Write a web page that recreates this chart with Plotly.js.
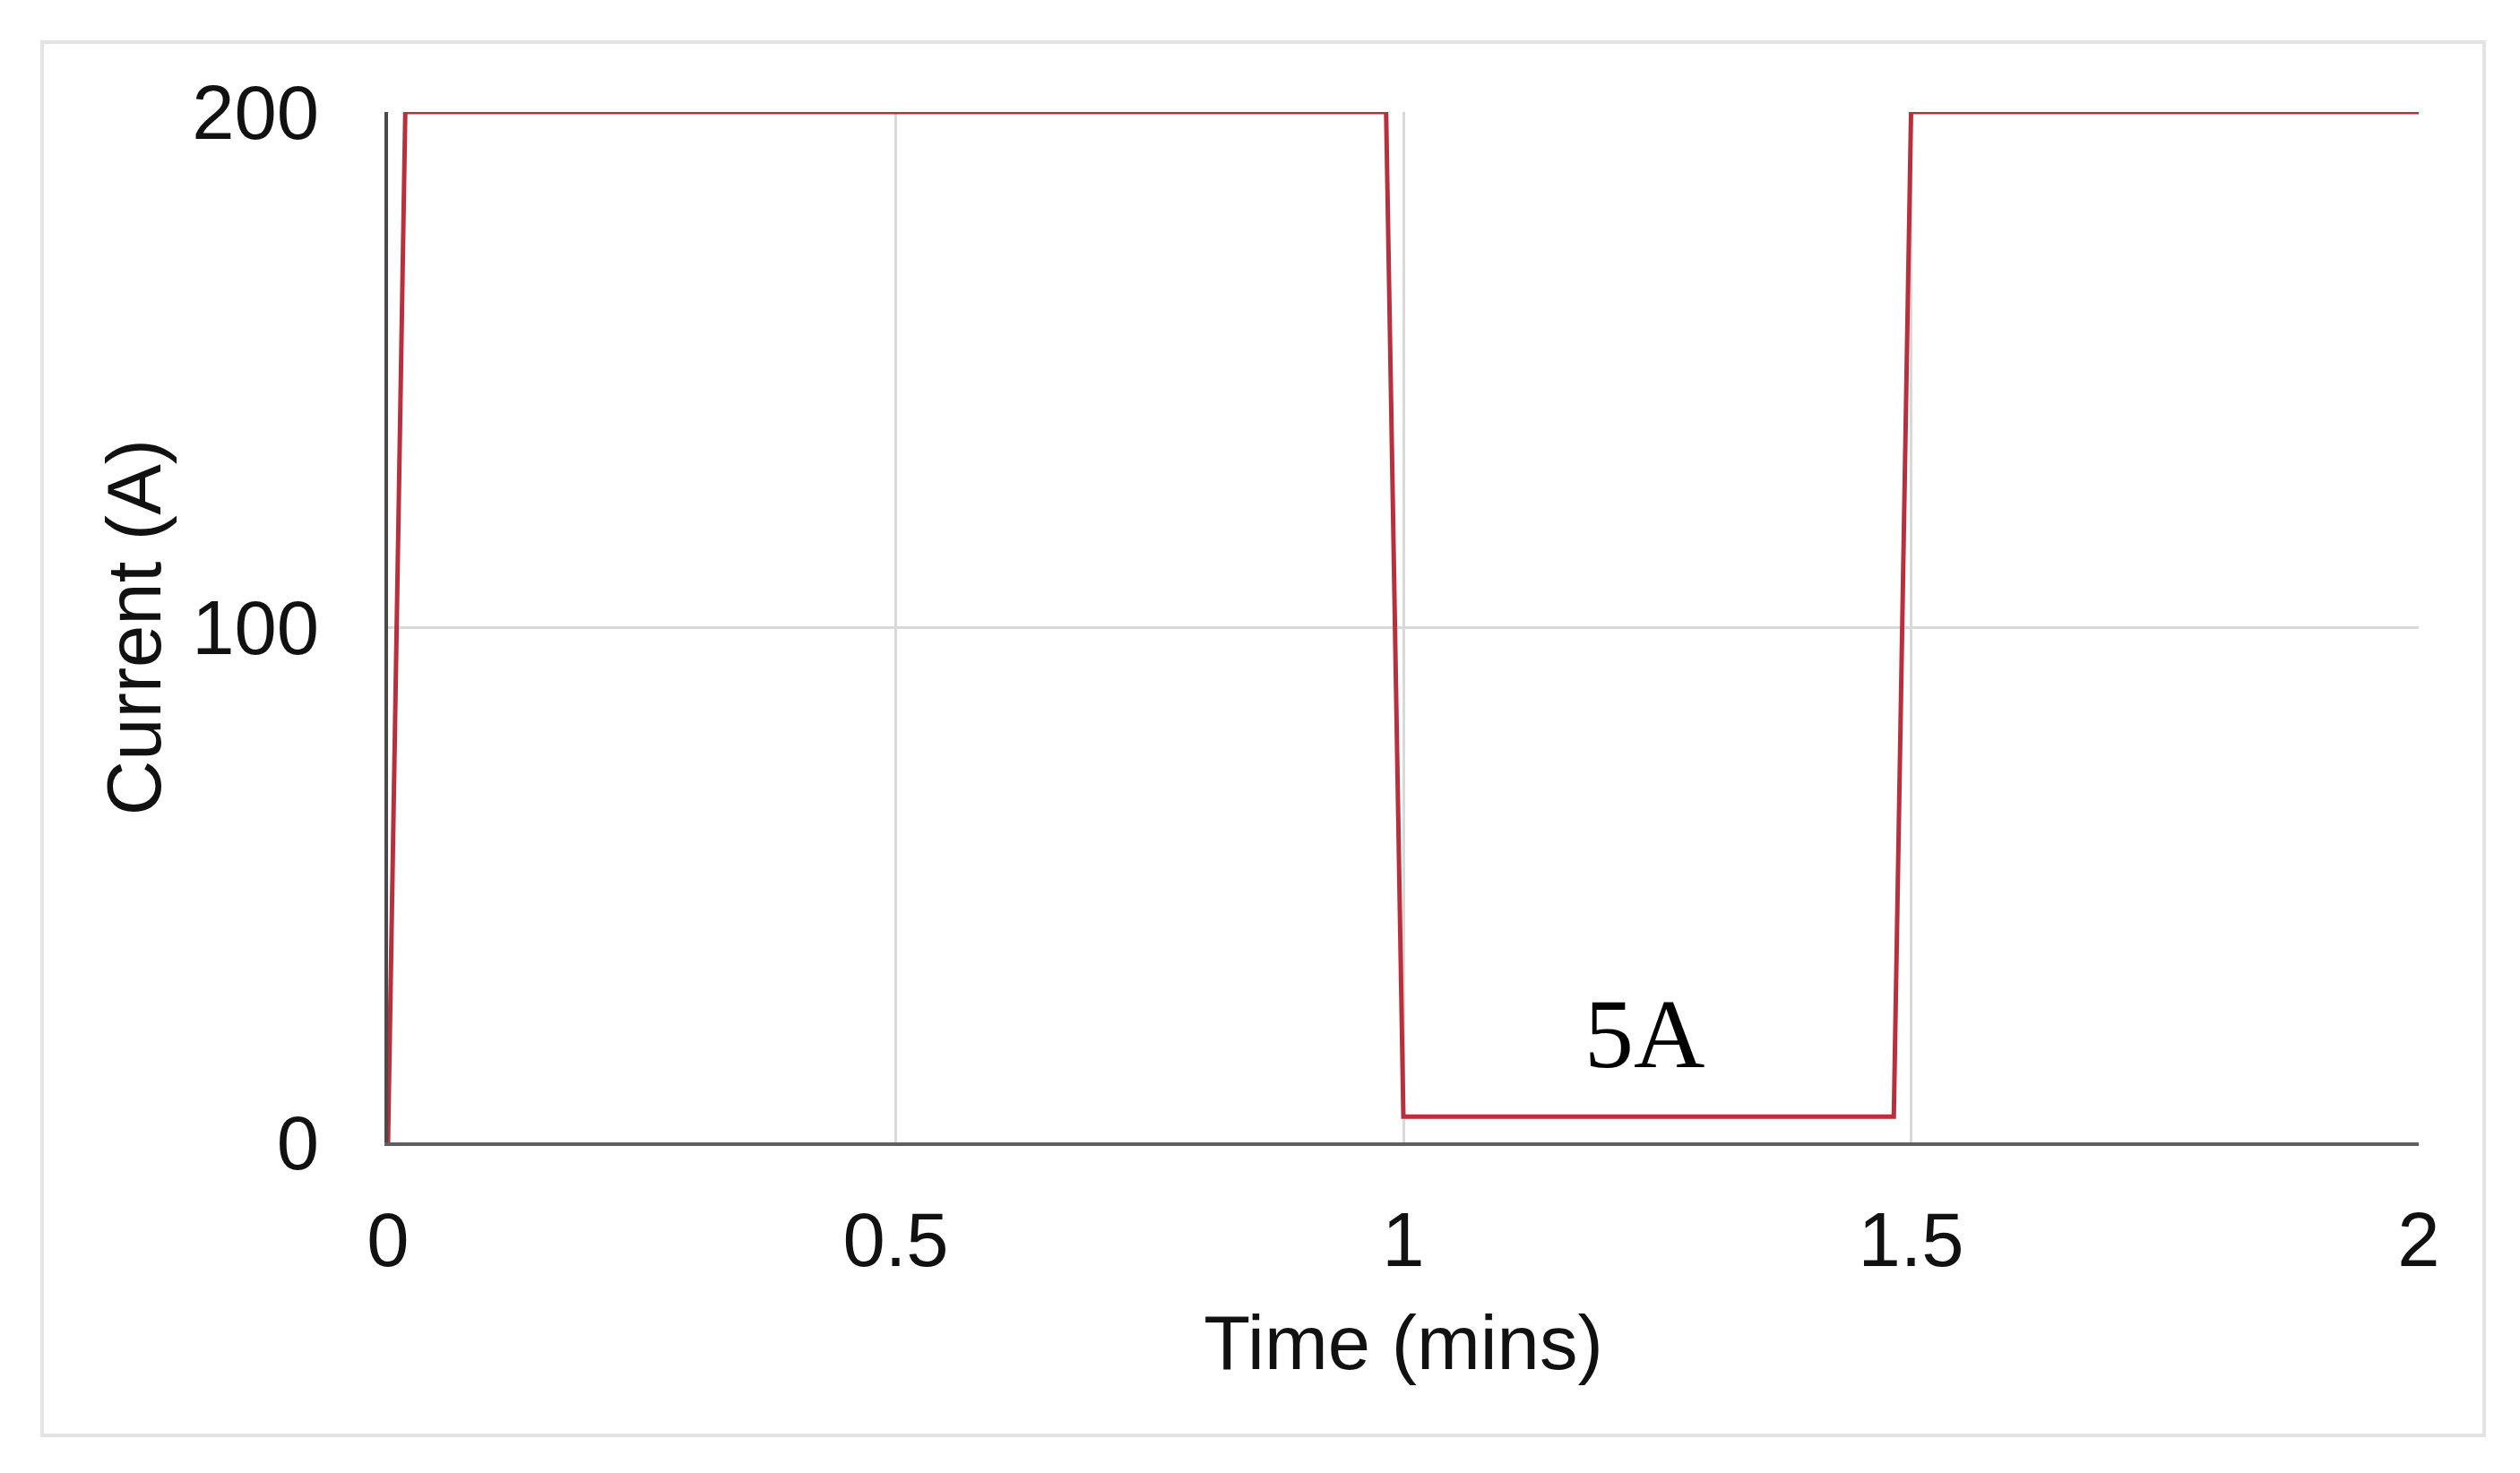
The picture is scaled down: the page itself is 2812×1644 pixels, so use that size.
<!DOCTYPE html>
<html>
<head>
<meta charset="utf-8">
<script src="https://cdn.plot.ly/plotly-3.0.1.min.js"></script>
<style>html,body{margin:0;padding:0;background:#fff;}#chart{width:2812px;height:1644px;}</style>
</head>
<body>
<div id="chart"></div>
<script>
const timeMins = [0, 0.017, 0.983, 1.0, 1.483, 1.5, 2.0];
const currentA = [0, 200, 200, 5, 5, 200, 200];
const xTicks = [0, 0.5, 1, 1.5, 2];
const xTickText = ["0", "0.5", "1", "1.5", "2"];
const yTicks = [0, 100, 200];
const yTickText = ["0", "100", "200"];
const labelText = "5A";
const labelPos = {x: 1.237, y: 21};

const trace = {
  x: timeMins, y: currentA, type: 'scatter', mode: 'lines',
  line: {color: '#b8303d', width: 5}, hoverinfo: 'skip', showlegend: false
};

const font = {family: 'Liberation Sans, Arial, sans-serif', size: 85, color: '#111111'};

const layout = {
  width: 2812, height: 1644,
  margin: {l: 433, r: 113, t: 125, b: 369, pad: 0},
  paper_bgcolor: '#ffffff', plot_bgcolor: '#ffffff',
  showlegend: false,
  font: font,
  xaxis: {
    range: [0, 2], tickvals: xTicks, ticktext: xTickText,
    showgrid: true, gridcolor: '#d9d9d9', gridwidth: 3,
    zeroline: false, showline: true, linecolor: '#5f5f5f', linewidth: 4,
    ticks: 'outside', ticklen: 0, tickcolor: 'rgba(0,0,0,0)', ticklabelstandoff: 32,
    tickfont: font,
    title: {text: 'Time (mins)', font: font, standoff: 39},
    automargin: false, fixedrange: true
  },
  yaxis: {
    range: [0, 200], tickvals: yTicks, ticktext: yTickText,
    showgrid: true, gridcolor: '#d9d9d9', gridwidth: 3,
    zeroline: false, showline: true, linecolor: '#4a4a4a', linewidth: 4,
    ticks: 'outside', ticklen: 0, tickcolor: 'rgba(0,0,0,0)', ticklabelstandoff: 56,
    tickfont: font,
    title: {text: 'Current (A)', font: font, standoff: 7},
    automargin: false, fixedrange: true
  },
  shapes: [{
    type: 'rect', xref: 'paper', yref: 'paper',
    x0: -0.1703, x1: 1.0322, y0: -0.2843, y1: 1.0678,
    line: {color: '#e3e3e3', width: 4}, fillcolor: 'rgba(0,0,0,0)', layer: 'below'
  }],
  annotations: [{
    x: labelPos.x, y: labelPos.y, xref: 'x', yref: 'y', text: labelText, showarrow: false,
    font: {family: 'Liberation Serif, Times New Roman, serif', size: 110, color: '#000000'}
  }]
};

Plotly.newPlot('chart', [trace], layout, {staticPlot: true, displayModeBar: false});
</script>
</body>
</html>
